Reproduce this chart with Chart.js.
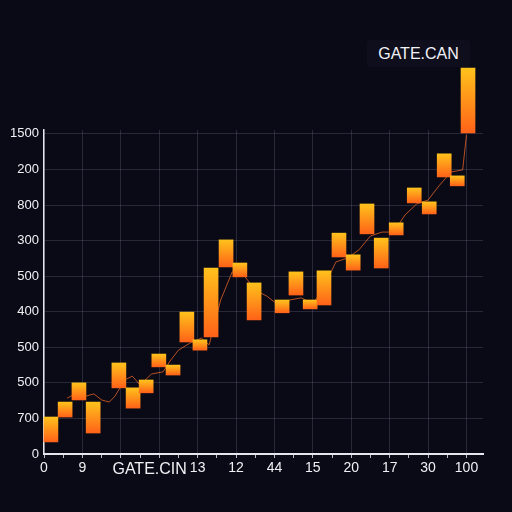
<!DOCTYPE html>
<html>
<head>
<meta charset="utf-8">
<script src="https://cdn.jsdelivr.net/npm/chart.js@4"></script>
<style>
  html, body { margin: 0; padding: 0; background: #0a0a17; }
  #wrap { position: relative; width: 512px; height: 512px; }
  #tag {
    position: absolute; left: 367px; top: 40px; width: 103px; height: 27px;
    background: #0e0e1c; border-radius: 3px; color: #f2f2f6;
    font: 16px "Liberation Sans", Arial, sans-serif; line-height: 27px; text-align: center;
  }
</style>
</head>
<body>
<div id="wrap">
  <canvas id="myBarChart" width="512" height="512"></canvas>
  <div id="tag">GATE.CAN</div>
</div>
<script>
// bars (x position, low, high) in axis units
var barX    = [0.18, 0.55, 0.91, 1.28, 1.95, 2.32, 2.66, 2.99, 3.36, 3.72, 4.06, 4.35, 4.74, 5.10, 5.47,
               6.20, 6.56, 6.93, 7.29, 7.68, 8.05, 8.41, 8.78, 9.17, 9.64, 10.03, 10.42, 10.76, 11.04];
var barLow  = [0.34, 1.04, 1.52, 0.59, 1.86, 1.29, 1.72, 2.45, 2.22, 3.15, 2.92, 3.29, 5.26, 4.98, 3.77,
               3.97, 4.47, 4.08, 4.19, 5.54, 5.17, 6.19, 5.23, 6.16, 7.06, 6.75, 7.79, 7.54, 9.03];
var barHigh = [1.04, 1.46, 2.00, 1.46, 2.56, 1.86, 2.08, 2.81, 2.50, 3.99, 3.21, 5.23, 6.02, 5.37, 4.81,
               4.33, 5.12, 4.33, 5.15, 6.21, 5.60, 7.03, 6.07, 6.50, 7.48, 7.09, 8.44, 7.82, 10.85];

// thin jagged line between the bars
var wickX = [0.6, 0.9, 1.1, 1.3, 1.5, 1.7, 1.85, 2.1, 2.3, 2.5, 2.8, 3.1, 3.3, 3.5, 3.8, 4.1, 4.3, 4.6, 4.9, 5.2,
             5.5, 5.8, 6.1, 6.4, 6.7, 7.0, 7.3, 7.6, 7.9, 8.2, 8.5, 8.8, 9.1, 9.4, 9.7, 10.0, 10.3, 10.6, 10.9, 11.0];
var wickY = [1.57, 1.74, 1.63, 1.69, 1.52, 1.46, 1.63, 2.08, 2.19, 1.94, 2.25, 2.31, 2.64, 2.92, 3.12, 3.26, 3.07, 4.33, 5.12, 5.03,
             4.61, 4.44, 4.19, 4.33, 4.39, 4.22, 4.72, 5.40, 5.51, 5.74, 6.13, 6.24, 6.24, 6.72, 7.03, 7.14, 7.56, 7.93, 7.99, 8.97];

// tick labels
var yLabels = ["0", "700", "500", "500", "400", "500", "300", "800", "200", "1500"];
var xTickPos = [0, 1, 2.75, 4, 5, 6, 7, 8, 9, 10, 11];
var xLabels = ["0", "9", "GATE.CIN", "13", "12", "44", "15", "20", "17", "30", "100"];

var gridCol = "rgba(150,150,180,0.22)";

function barFill(c) {
  var chart = c.chart, ys = chart.scales.y;
  if (!chart.chartArea || !c.raw || !ys) return "#ff9020";
  var top = ys.getPixelForValue(c.raw.y[1]);
  var bot = ys.getPixelForValue(c.raw.y[0]);
  if (!isFinite(top) || !isFinite(bot) || top === bot) return "#ff9020";
  var g = chart.ctx.createLinearGradient(0, top, 0, bot);
  g.addColorStop(0, "#ffc21c");
  g.addColorStop(1, "#ff6218");
  return g;
}

var ctx = document.getElementById("myBarChart");
var myBarChart = new Chart(ctx, {
  type: 'bar',
  data: {
    datasets: [
      {
        type: 'bar',
        data: barX.map(function (x, i) { return { x: x, y: [barLow[i], barHigh[i]] }; }),
        backgroundColor: barFill,
        borderWidth: 0,
        barThickness: 14,
        clip: false,
        order: 1
      },
      {
        type: 'line',
        data: wickX.map(function (x, i) { return { x: x, y: wickY[i] }; }),
        borderColor: "rgba(255,110,40,0.7)",
        borderWidth: 1,
        pointRadius: 0,
        tension: 0,
        order: 2
      }
    ]
  },
  options: {
    responsive: false,
    animation: false,
    layout: { padding: { top: 130, right: 29, bottom: 0, left: 0 } },
    plugins: {
      legend: { display: false },
      tooltip: { enabled: false }
    },
    scales: {
      x: {
        type: 'linear',
        min: 0,
        max: 11.43,
        offset: false,
        afterBuildTicks: function (s) {
          var t = [];
          for (var v = 0; v <= 11; v += 0.5) t.push({ value: v });
          t.push({ value: 2.75 });
          s.ticks = t;
        },
        afterFit: function (s) { s.height = 58; },
        grid: {
          offset: false,
          color: function (c) { return c.tick && c.tick.value % 1 === 0 ? gridCol : "transparent"; },
          tickColor: function (c) { return c.tick && c.tick.value === 2.75 ? "transparent" : "rgba(230,230,240,0.8)"; },
          tickLength: 4
        },
        border: { color: "#e6e6ee", width: 2 },
        ticks: {
          autoSkip: false,
          maxRotation: 0,
          padding: 2,
          color: "#f0f0f4",
          font: function (c) {
            return { family: "'Liberation Sans', Arial, sans-serif", size: c.tick && c.tick.value === 2.75 ? 16 : 14 };
          },
          callback: function (v) {
            var i = xTickPos.indexOf(v);
            return i >= 0 ? xLabels[i] : "";
          }
        }
      },
      y: {
        min: 0,
        max: 9.11,
        afterBuildTicks: function (s) {
          var t = [];
          for (var v = 0; v <= 9; v++) t.push({ value: v });
          s.ticks = t;
        },
        afterFit: function (s) { s.width = 44; },
        grid: { color: gridCol, drawTicks: false },
        border: { color: "#e6e6ee", width: 1.5 },
        ticks: {
          padding: 5,
          color: "#f0f0f4",
          font: { family: "'Liberation Sans', Arial, sans-serif", size: 13 },
          callback: function (v) { return yLabels[v]; }
        }
      }
    }
  }
});
</script>
</body>
</html>
